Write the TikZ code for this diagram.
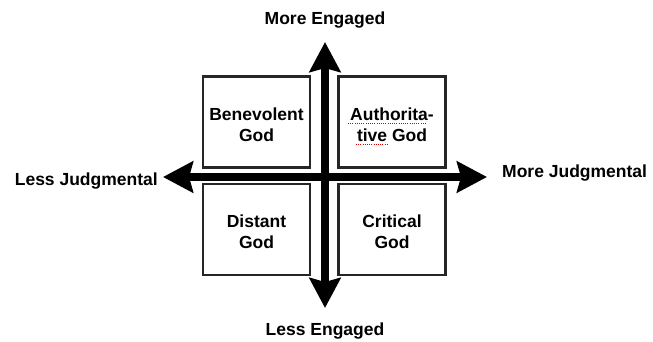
\documentclass[tikz,border=0pt]{standalone}
\usepackage{fontspec}
\setmainfont{Liberation Sans}
\usetikzlibrary{arrows.meta}

\tikzset{
  quadrant/.style={draw=black!85, line width=2.5pt, minimum width=107pt, minimum height=91pt},
  quadtext/.style={align=center, inner sep=0pt, font=\bfseries\fontsize{17.5}{21}\selectfont},
  axislabel/.style={font=\bfseries\fontsize{17.5}{21}\selectfont, inner sep=0pt},
  axis/.style={line width=7.5pt, {Stealth[length=30pt,width=31pt,inset=4pt]}-{Stealth[length=30pt,width=31pt,inset=4pt]}},
  spell/.style={red!85!black, line width=1pt, dash pattern=on 1pt off 1.2pt}
}

\begin{document}
\begin{tikzpicture}[x=1pt,y=-1pt]
\useasboundingbox (0,0) rectangle (653,341);

\coordinate (N) at (325,42);
\coordinate (S) at (325,308);
\coordinate (W) at (163,177);
\coordinate (E) at (487,177);

% the four kinds of god
\node[quadrant] (benevolent) at (256.5,122) {};
\node[quadrant] (authoritative) at (392,122) {};
\node[quadrant] (distant) at (256.5,229.5) {};
\node[quadrant] (critical) at (392,229.5) {};

\node[quadtext] at ([yshift=-2.5pt]benevolent.center) {Benevolent\\God};
\node[quadtext] at ([yshift=-2.5pt]authoritative.center) {Authorita-\\tive God};
\node[quadtext] at ([yshift=-2.5pt]distant.center) {Distant\\God};
\node[quadtext] at ([yshift=-2.5pt]critical.center) {Critical\\God};

% axes
\draw[axis] (S)--(N);
\draw[axis] (W)--(E);

\node[axislabel] (moreeng) at (325,20.5) {More Engaged};
\node[axislabel] (lesseng) at (325,331) {Less Engaged};
\node[axislabel, anchor=east] (lessjud) at (158,181) {Less Judgmental};
\node[axislabel, anchor=west] (morejud) at (502,173) {More Judgmental};

% spell checker marks
\draw[spell] (348,123.5)--(427,123.5);
\draw[spell] (356,144.5)--(387,144.5);
\end{tikzpicture}
\end{document}
